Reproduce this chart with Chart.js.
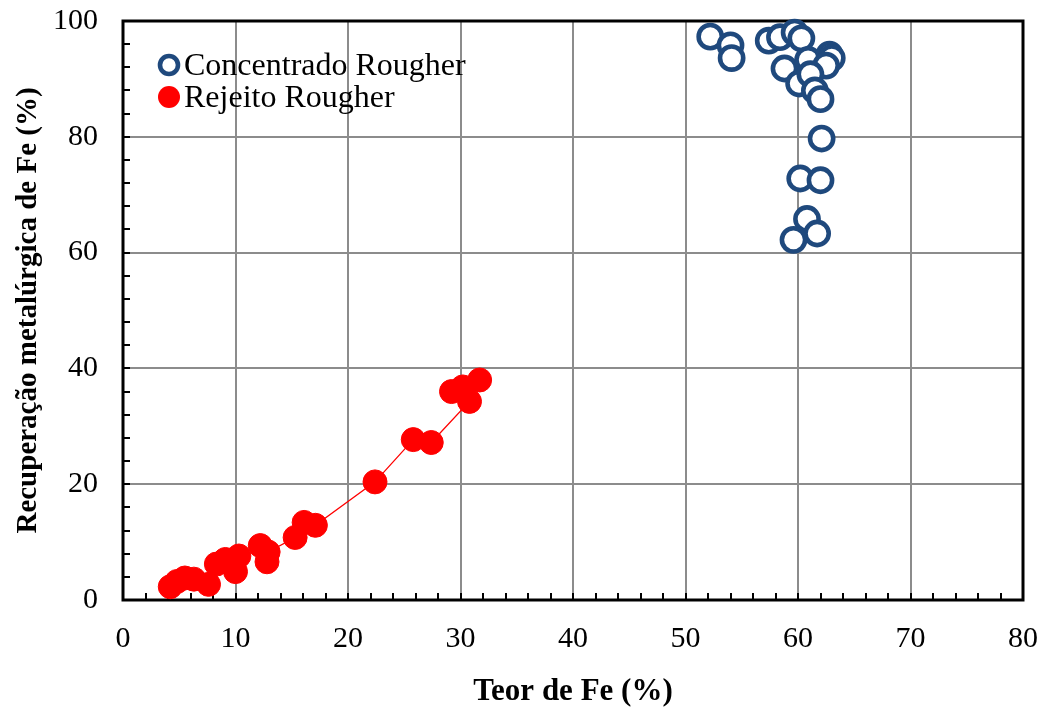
<!DOCTYPE html>
<html>
<head>
<meta charset="utf-8">
<script src="https://cdn.jsdelivr.net/npm/chart.js@4/dist/chart.umd.min.js"></script>
<style>
  html, body { margin: 0; padding: 0; background: #fff; }
  #wrap { width: 1047px; height: 711px; }
</style>
</head>
<body>
<div id="wrap"><canvas id="fe-chart" width="1047" height="711"></canvas></div>
<script>
// Concentrado Rougher: teor de Fe (%) x recuperação (%)
const concX = [52.2, 54.0, 54.1, 57.4, 58.4, 59.7, 60.3, 58.8, 60.9, 62.8, 63.0, 62.5,
               60.1, 61.1, 61.5, 62.0, 62.1, 60.2, 62.0, 60.8, 61.7, 59.6];
const concY = [97.3, 95.8, 93.6, 96.6, 97.2, 98.0, 97.0, 91.8, 93.3, 94.2, 93.6, 92.3,
               89.2, 90.8, 88.0, 86.5, 79.7, 72.8, 72.5, 65.8, 63.3, 62.2];

// Rejeito Rougher (ligado por linha na ordem abaixo)
const rejX = [4.2, 4.8, 5.5, 6.3, 7.6, 8.3, 9.1, 10.0, 10.3, 12.2, 12.8, 12.9,
              15.3, 16.1, 17.1, 22.4, 25.8, 27.4, 30.8, 29.2, 30.2, 31.7];
const rejY = [2.3, 3.2, 3.8, 3.6, 2.7, 6.2, 7.0, 4.9, 7.6, 9.4, 6.6, 8.3,
              10.8, 13.4, 12.9, 20.4, 27.7, 27.2, 34.3, 36.0, 36.8, 38.0];

const xTicks = [0, 10, 20, 30, 40, 50, 60, 70, 80];
const yTicks = [0, 20, 40, 60, 80, 100];

const serif = "'Liberation Serif', 'Times New Roman', serif";

function toPoints(xs, ys) {
    return xs.map((x, i) => ({ x: x, y: ys[i] }));
}

// frame around the plot area plus minor tick marks pointing inward
const framePlugin = {
    id: 'frame',
    beforeDatasetsDraw(chart) {
        const { ctx, chartArea: a, scales } = chart;
        ctx.save();
        ctx.strokeStyle = '#000';
        ctx.lineWidth = 2;
        for (let v = 0; v <= 80; v += 2) {
            const px = Math.round(scales.x.getPixelForValue(v));
            ctx.beginPath();
            ctx.moveTo(px, a.bottom);
            ctx.lineTo(px, a.bottom - 7);
            ctx.stroke();
        }
        for (let v = 0; v <= 100; v += 4) {
            const py = Math.round(scales.y.getPixelForValue(v));
            ctx.beginPath();
            ctx.moveTo(a.left, py);
            ctx.lineTo(a.left + 7, py);
            ctx.stroke();
        }
        ctx.lineWidth = 3;
        ctx.strokeRect(a.left, a.top, a.right - a.left, a.bottom - a.top);
        ctx.restore();
    }
};

// legend inside the plot, top-left corner
const insideLegend = {
    id: 'insideLegend',
    afterDraw(chart) {
        const { ctx, chartArea: a } = chart;
        ctx.save();
        ctx.font = '32px ' + serif;
        ctx.textBaseline = 'middle';
        ctx.textAlign = 'left';
        chart.data.datasets.forEach((ds, i) => {
            const cy = a.top + 44 + i * 32;
            const cx = a.left + 46;
            ctx.beginPath();
            ctx.arc(cx, cy, ds.legendRadius, 0, Math.PI * 2);
            if (ds.pointBackgroundColor !== '#fff') {
                ctx.fillStyle = ds.pointBackgroundColor;
                ctx.fill();
            } else {
                ctx.fillStyle = '#fff';
                ctx.fill();
                ctx.lineWidth = ds.pointBorderWidth;
                ctx.strokeStyle = ds.pointBorderColor;
                ctx.stroke();
            }
            ctx.fillStyle = '#000';
            ctx.fillText(ds.label, cx + 15, cy + 2);
        });
        ctx.restore();
    }
};

new Chart(document.getElementById('fe-chart'), {
    type: 'scatter',
    data: {
        datasets: [
            {
                label: 'Concentrado Rougher',
                data: toPoints(concX, concY),
                pointRadius: 11.6,
                pointBorderWidth: 4.6,
                pointBackgroundColor: '#fff',
                pointBorderColor: '#1f497d',
                legendRadius: 9,
                showLine: false,
                clip: false
            },
            {
                label: 'Rejeito Rougher',
                data: toPoints(rejX, rejY),
                pointRadius: 12,
                pointBorderWidth: 1,
                pointBackgroundColor: '#ff0000',
                pointBorderColor: '#ff0000',
                borderColor: '#ff0000',
                borderWidth: 1.3,
                legendRadius: 11,
                showLine: true,
                tension: 0,
                clip: false
            }
        ]
    },
    options: {
        responsive: false,
        animation: false,
        events: [],
        layout: { padding: { left: 0, top: 21, right: 24, bottom: 0 } },
        plugins: {
            legend: { display: false },
            tooltip: { enabled: false }
        },
        scales: {
            x: {
                type: 'linear',
                min: 0,
                max: 80,
                afterBuildTicks: s => { s.ticks = xTicks.map(v => ({ value: v })); },
                afterFit: s => {
                    s.height = 111;
                    s.paddingLeft = 0;
                    s.paddingRight = 0;
                },
                border: { display: false },
                grid: { color: '#8c8c8c', lineWidth: 2, drawTicks: false },
                ticks: {
                    color: '#000',
                    padding: 21,
                    font: { family: serif, size: 30 }
                },
                title: {
                    display: true,
                    text: 'Teor de Fe (%)',
                    color: '#000',
                    padding: { top: 0, bottom: 0 },
                    font: { family: serif, size: 31, weight: 'bold' }
                }
            },
            y: {
                type: 'linear',
                min: 0,
                max: 100,
                afterBuildTicks: s => { s.ticks = yTicks.map(v => ({ value: v })); },
                afterFit: s => {
                    s.width = 123;
                    s.paddingTop = 0;
                    s.paddingBottom = 0;
                },
                border: { display: false },
                grid: { color: '#8c8c8c', lineWidth: 2, drawTicks: false },
                ticks: {
                    color: '#000',
                    padding: 25,
                    font: { family: serif, size: 30 }
                },
                title: {
                    display: true,
                    text: 'Recuperação metalúrgica de Fe (%)',
                    color: '#000',
                    padding: { top: 11, bottom: 0 },
                    font: { family: serif, size: 29, weight: 'bold' }
                }
            }
        }
    },
    plugins: [framePlugin, insideLegend]
});
</script>
</body>
</html>
